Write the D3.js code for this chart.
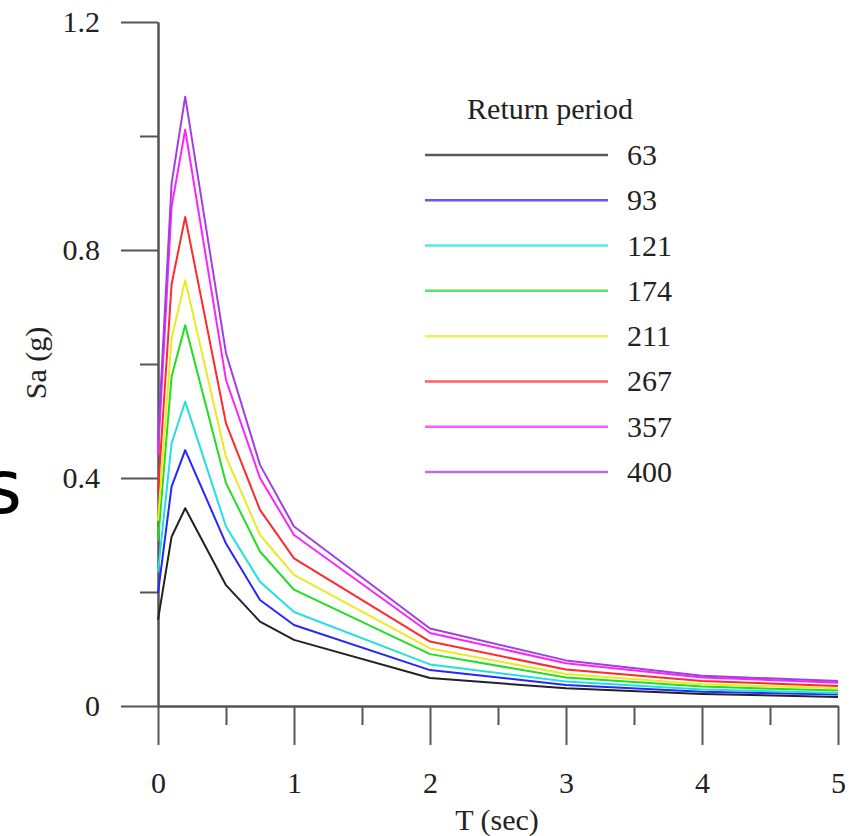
<!DOCTYPE html>
<html>
<head>
<meta charset="utf-8">
<script src="https://cdn.jsdelivr.net/npm/d3@7"></script>
<style>
body { margin:0; background:#fff; }
text { font-family:'Liberation Serif', 'Times New Roman', serif; fill:#222; }
</style>
</head>
<body>
<div id="wrapper"></div>
<script>
var periods = [0, 0.1, 0.2, 0.5, 0.75, 1, 2, 3, 4, 5];
var returnPeriods = ['63', '93', '121', '174', '211', '267', '357', '400'];

var rp63  = [0.151, 0.297, 0.347, 0.212, 0.148, 0.116, 0.049, 0.031, 0.021, 0.016];
var rp93  = [0.198, 0.385, 0.449, 0.285, 0.186, 0.142, 0.063, 0.037, 0.025, 0.020];
var rp121 = [0.235, 0.461, 0.534, 0.315, 0.218, 0.165, 0.073, 0.043, 0.029, 0.023];
var rp174 = [0.290, 0.578, 0.668, 0.391, 0.271, 0.204, 0.091, 0.050, 0.034, 0.027];
var rp211 = [0.325, 0.645, 0.747, 0.437, 0.300, 0.230, 0.101, 0.056, 0.038, 0.031];
var rp267 = [0.375, 0.740, 0.858, 0.496, 0.344, 0.259, 0.113, 0.064, 0.044, 0.035];
var rp357 = [0.440, 0.876, 1.011, 0.572, 0.400, 0.300, 0.128, 0.075, 0.050, 0.041];
var rp400 = [0.465, 0.917, 1.069, 0.619, 0.423, 0.315, 0.136, 0.080, 0.053, 0.044];

var series = [rp63, rp93, rp121, rp174, rp211, rp267, rp357, rp400];
var colors = ['#222222', '#2626ff', '#22e0e0', '#22dd22', '#eaea22', '#ff2a2a', '#ff22ff', '#a040e0'];

var xMajor = [0, 1, 2, 3, 4, 5];
var xMinor = [0.5, 1.5, 2.5, 3.5, 4.5];
var yMajor = [0, 0.4, 0.8, 1.2];
var yMinor = [0.2, 0.6, 1.0];

var xscale = d3.scaleLinear().domain([0, 5]).range([158, 838]);
var yscale = d3.scaleLinear().domain([0, 1.2]).range([706, 22]);

var canvas = d3.select('#wrapper')
				.append('svg')
				.attr('width', 856)
				.attr('height', 836);

// the cut off letter on the left edge
canvas.append('text')
		.attr('x', 22)
		.attr('y', 513)
		.attr('text-anchor', 'end')
		.style('font-family', 'DejaVu Sans')
		.style('font-size', '74px')
		.style('fill', '#000')
		.text('s');

function styleAxis(g){
	g.selectAll('path, line').style('stroke', '#555').style('stroke-width', '2px');
	g.selectAll('text').style('font-family', "'Liberation Serif', serif").style('fill', '#222');
}

var yAxis = d3.axisLeft(yscale).tickValues(yMajor).tickSize(37).tickSizeOuter(0)
				.tickPadding(21).tickFormat(function(d){ return d === 0 ? '0' : d3.format('.1f')(d); });
var yAxisMinor = d3.axisLeft(yscale).tickValues(yMinor).tickSize(18).tickSizeOuter(0).tickFormat('');

var xAxis = d3.axisBottom(xscale).tickValues(xMajor).tickSize(39).tickSizeOuter(0)
				.tickPadding(27).tickFormat(d3.format('d'));
var xAxisMinor = d3.axisBottom(xscale).tickValues(xMinor).tickSize(19).tickSizeOuter(0).tickFormat('');

canvas.append('g').attr('transform', 'translate(158,0)').call(yAxisMinor).call(styleAxis);
canvas.append('g').attr('transform', 'translate(0,706)').call(xAxisMinor).call(styleAxis);

var y_xis = canvas.append('g')
				.attr('transform', 'translate(158,0)')
				.attr('id', 'yaxis')
				.call(yAxis)
				.call(styleAxis);
y_xis.selectAll('text').style('font-size', '30px');

var x_xis = canvas.append('g')
				.attr('transform', 'translate(0,706)')
				.attr('id', 'xaxis')
				.call(xAxis)
				.call(styleAxis);
x_xis.selectAll('text').style('font-size', '30px');

canvas.append('text')
		.attr('transform', 'translate(46,363) rotate(-90)')
		.attr('text-anchor', 'middle')
		.style('font-size', '30px')
		.text('Sa (g)');

canvas.append('text')
		.attr('x', 497)
		.attr('y', 830)
		.attr('text-anchor', 'middle')
		.style('font-size', '30px')
		.text('T (sec)');

var line = d3.line()
			.x(function(d, i){ return xscale(periods[i]); })
			.y(function(d){ return yscale(d); });

canvas.append('g')
		.attr('id', 'curves')
		.selectAll('path')
		.data(series)
		.enter()
		.append('path')
		.attr('d', line)
		.style('fill', 'none')
		.style('stroke', function(d, i){ return colors[i]; })
		.style('stroke-width', '2px')
		.style('stroke-linejoin', 'round');

// legend
var legendY = d3.scaleLinear().domain([0, 7]).range([155, 472]);

var legend = canvas.append('g').attr('id', 'legend');

legend.append('text')
		.attr('x', 550)
		.attr('y', 119)
		.attr('text-anchor', 'middle')
		.style('font-size', '30px')
		.text('Return period');

legend.selectAll('line')
		.data(returnPeriods)
		.enter()
		.append('line')
		.attr('x1', 425)
		.attr('x2', 608)
		.attr('y1', function(d, i){ return legendY(i); })
		.attr('y2', function(d, i){ return legendY(i); })
		.style('stroke', function(d, i){ return colors[i]; })
		.style('stroke-opacity', 0.75)
		.style('stroke-width', '2.5px');

legend.selectAll('text.lab')
		.data(returnPeriods)
		.enter()
		.append('text')
		.attr('class', 'lab')
		.attr('x', 627)
		.attr('y', function(d, i){ return legendY(i) + 10; })
		.style('font-size', '30px')
		.text(function(d){ return d; });
</script>
</body>
</html>
